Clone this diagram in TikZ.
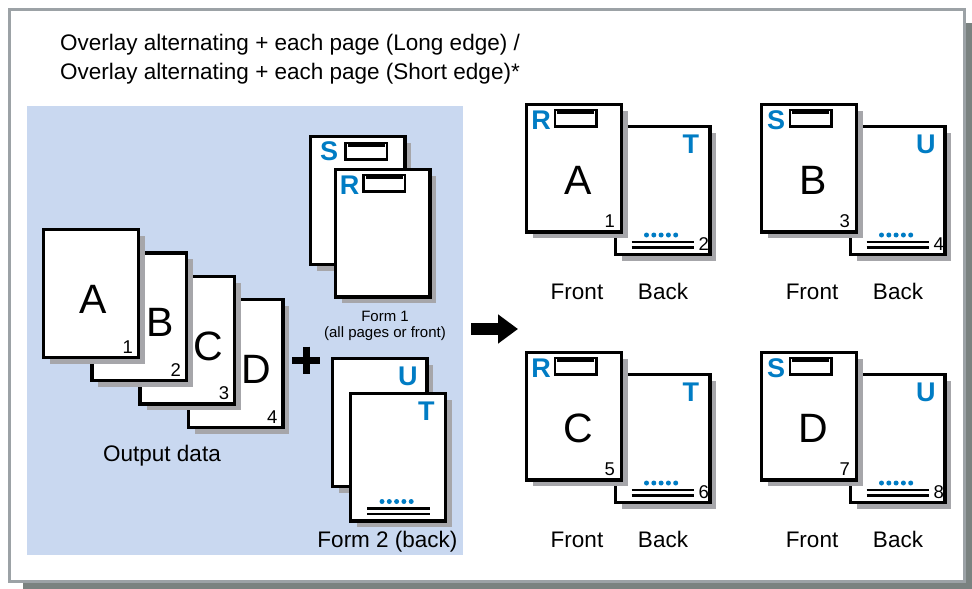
\documentclass[tikz,border=0pt]{standalone}
\usepackage{fontspec}
\setmainfont{Liberation Sans}
\usetikzlibrary{arrows.meta, positioning, shadows}
\definecolor{panelblue}{RGB}{201,216,240}
\definecolor{formblue}{RGB}{0,124,196}
\definecolor{framegray}{RGB}{156,162,166}
\definecolor{frameshadow}{RGB}{122,130,128}
\definecolor{pageshadow}{RGB}{166,166,170}

\begin{document}
\begin{tikzpicture}[
    x=1pt, y=-1pt,
    sheet/.style={rectangle, draw=black, line width=3.3pt, fill=white, minimum width=94.7pt, minimum height=127.7pt, inner sep=0pt,
        drop shadow={shadow xshift=6.5pt, shadow yshift=-6.5pt, fill=pageshadow, opacity=1}},
    bigletter/.style={inner sep=0pt, font=\fontsize{41}{41}\selectfont},
    pagenum/.style={inner sep=0pt, font=\fontsize{18.5}{18.5}\selectfont},
    formletter/.style={inner sep=0pt, text=formblue, font=\fontsize{27}{27}\selectfont\bfseries},
    formbox/.style={rectangle, draw=black, line width=2.6pt, fill=white, minimum width=41.5pt, minimum height=16.2pt, inner sep=0pt},
    markline/.style={line width=2.5pt, black},
    captext/.style={inner sep=0pt, anchor=base, font=\fontsize{22.5}{22.5}\selectfont},
    smalltext/.style={inner sep=0pt, align=center, font=\fontsize{15}{16}\selectfont},
    bigarrow/.style={line width=12pt, -{Triangle[length=20pt, width=28pt]}}
]
\useasboundingbox (0,0) rectangle (972,589);

% frame and panel
\fill[frameshadow] (23,23) rectangle (972,589);
\draw[framegray, line width=3pt, fill=white] (9,9) rectangle (964,581);
\fill[panelblue] (27,106) rectangle (463,555);

\node[captext, anchor=base west] (title1) at (60,50) {Overlay alternating + each page (Long edge) /};
\node[captext, anchor=base west] (title2) at (60,79) {Overlay alternating + each page (Short edge)*};

% output data
\foreach \i/\L/\n/\lx in {3/D/4/21, 2/C/3/21, 1/B/2/21, 0/A/1/2} {
    \node[sheet] (data\L) at (91+48.2*\i, 293.5+23.3*\i) {};
    \node[bigletter] (letter\L) at ([shift={(\lx,6)}]data\L.center) {\L};
    \node[pagenum, anchor=south east] (num\L) at ([shift={(-7,-5.5)}]data\L.south east) {\n};
}
\node[captext] (outlabel) at (162,461) {Output data};

\draw[line width=7pt] (292,360) -- (320,360) (306,346.5) -- (306,373.5);

% form 1
\node[sheet] (formS) at (357.5,200.5) {};
\node[formletter] (letterS) at ([shift={(20.6,16.6)}]formS.north west) {S};
\node[formbox] (boxS) at ([shift={(57.8,16.1)}]formS.north west) {};
\node[sheet] (formR) at (382.5,233) {};
\node[formletter] (letterR) at ([shift={(16,17.5)}]formR.north west) {R};
\node[formbox] (boxR) at ([shift={(50.6,15.6)}]formR.north west) {};
\node[smalltext] (form1label) at (385,326) {Form 1\\(all pages or front)};

% form 2
\node[sheet] (formU) at (379.5,422.5) {};
\node[formletter] (letterU) at ([shift={(-20.6,19.6)}]formU.north east) {U};
\node[sheet] (formT) at (398,457) {};
\node[formletter] (letterT) at ([shift={(-20.6,19.6)}]formT.north east) {T};
\node[captext] (form2label) at (387.5,547) {Form 2 (back)};

\coordinate (arrowtail) at (471,329);
\coordinate (arrowhead) at (518,329);
\draw[bigarrow] (arrowtail) -- (arrowhead);

% results
\foreach \dx/\dy/\fl/\bl/\big/\fn/\bn in {0/0/R/T/A/1/2, 235/0/S/U/B/3/4, 0/248/R/T/C/5/6, 235/248/S/U/D/7/8} {
    \node[sheet] (back\big) at (662.5+\dx,190.5+\dy) {};
    \node[formletter] (bletter\big) at ([shift={(-20.6,19.6)}]back\big.north east) {\bl};
    \node[pagenum, anchor=south east] (bnum\big) at ([shift={(-2.5,-5.5)}]back\big.south east) {\bn};
    \node[sheet] (front\big) at (574+\dx,168+\dy) {};
    \node[formletter] (fletter\big) at ([shift={(16,17.5)}]front\big.north west) {\fl};
    \node[formbox] (fbox\big) at ([shift={(50.6,15.6)}]front\big.north west) {};
    \node[bigletter] (rletter\big) at ([shift={(4,12)}]front\big.center) {\big};
    \node[pagenum, anchor=south east] (fnum\big) at ([shift={(-8,-6)}]front\big.south east) {\fn};
    \node[captext] (frontlabel\big) at (577+\dx,299+\dy) {Front};
    \node[captext] (backlabel\big) at (663+\dx,299+\dy) {Back};
}

% box lines and back marks
\foreach \bx in {boxS, boxR, fboxA, fboxB, fboxC, fboxD}
    \draw[markline] ([shift={(3.5,4)}]\bx.north west) -- ([shift={(-3.5,4)}]\bx.north east);
\foreach \pg in {formT, backA, backB, backC, backD} {
    \foreach \k in {0,...,4}
        \fill[formblue] ([shift={(33+7.3*\k,-21)}]\pg.south west) circle (2.5pt);
    \draw[markline] ([shift={(18,-14)}]\pg.south west) -- ([shift={(80.5,-14)}]\pg.south west);
    \draw[markline] ([shift={(18,-8.5)}]\pg.south west) -- ([shift={(80.5,-8.5)}]\pg.south west);
}
\end{tikzpicture}
\end{document}
